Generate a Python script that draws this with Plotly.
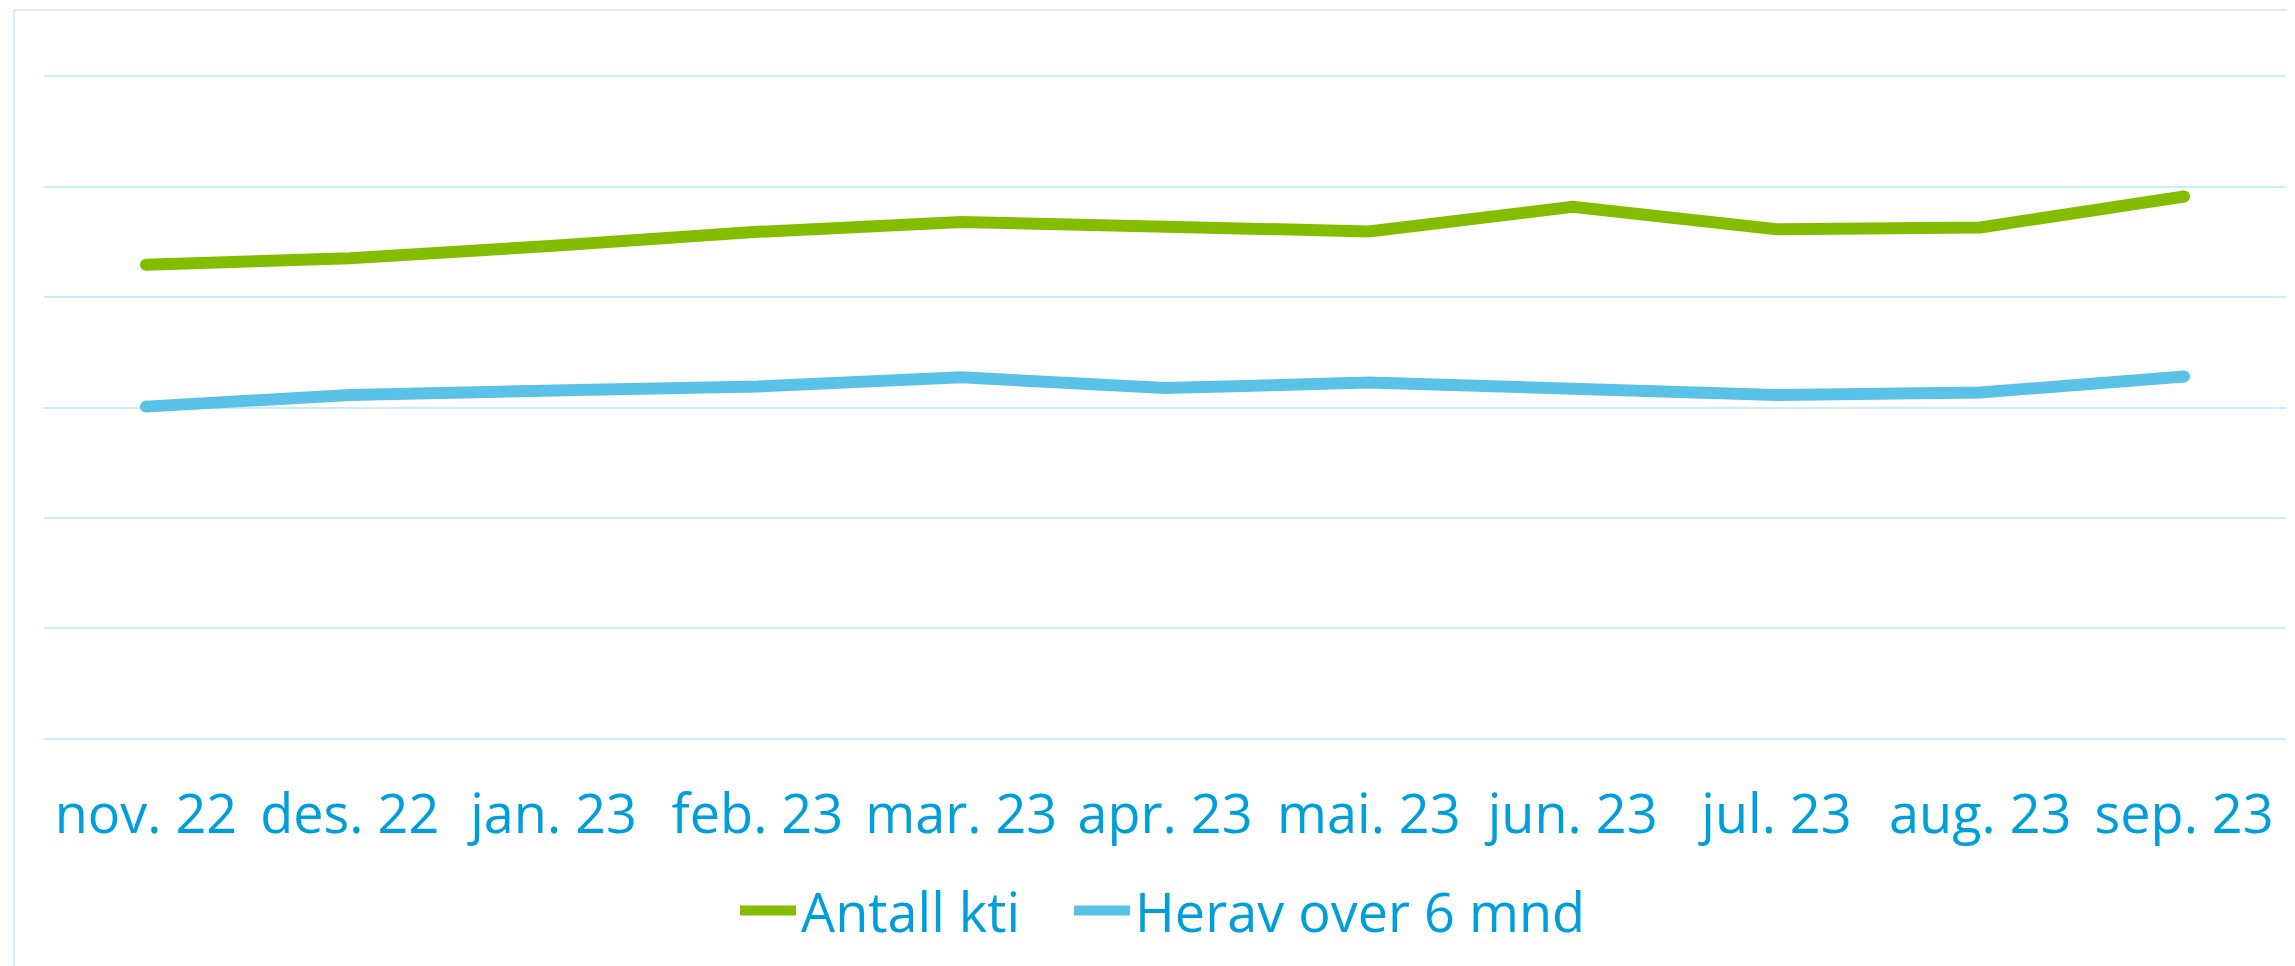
import plotly.graph_objects as go

# ---- data ----
months = ["nov. 22", "des. 22", "jan. 23", "feb. 23", "mar. 23", "apr. 23",
          "mai. 23", "jun. 23", "jul. 23", "aug. 23", "sep. 23"]
antall_kti = [2146, 2176, 2232, 2295, 2340, 2313, 2297, 2408, 2307, 2315, 2455]
herav_over_6_mnd = [1504, 1557, 1577, 1595, 1637, 1588, 1613, 1589, 1557, 1568, 1640]
series_names = ["Antall kti", "Herav over 6 mnd"]

# ---- style ----
GREEN = "#84bd00"
BLUE = "#5bc2e7"
TEXT = "#009fdb"
GRID = "#c8eefb"
LW = 12

W, H = 2295, 966
# the page body has an 8px margin, so figure coordinates are screen - 8
L, R, T, B = 36, 17, 67, 234
pw, ph = W - L - R, H - T - B

def px_to_paper_x(px):
    return (px - L) / pw

def px_to_paper_y(py):
    return (H - B - py) / ph

fig = go.Figure()
for name, vals, col, lg in [(series_names[0], antall_kti, GREEN, "legend"),
                            (series_names[1], herav_over_6_mnd, BLUE, "legend2")]:
    fig.add_trace(go.Scatter(x=months, y=vals, name=name, mode="lines",
                             line=dict(color=col, width=LW), legend=lg))
    # round caps at the ends
    fig.add_trace(go.Scatter(x=[months[0], months[-1]], y=[vals[0], vals[-1]],
                             mode="markers", showlegend=False, hoverinfo="skip",
                             marker=dict(color=col, size=LW, line=dict(width=0))))

# outer chart border (top and left visible)
fig.add_shape(type="rect", xref="paper", yref="paper",
              x0=px_to_paper_x(6), x1=px_to_paper_x(W + 20),
              y0=px_to_paper_y(H + 20), y1=px_to_paper_y(2),
              line=dict(color=GRID, width=1.5), fillcolor="rgba(0,0,0,0)", layer="below")

legend_common = dict(orientation="h", xanchor="left", yanchor="middle",
                     y=px_to_paper_y(903), font=dict(size=54, color=TEXT),
                     itemwidth=56, bgcolor="rgba(0,0,0,0)")

fig.update_layout(
    width=W, height=H,
    margin=dict(l=L, r=R, t=T, b=B, autoexpand=False),
    paper_bgcolor="white", plot_bgcolor="white",
    font=dict(family="Open Sans, Noto Sans, sans-serif", color=TEXT, size=54),
    showlegend=True,
    legend=dict(x=px_to_paper_x(727), **legend_common),
    legend2=dict(x=px_to_paper_x(1061), **legend_common),
    xaxis=dict(type="category", range=[-0.5, len(months) - 0.5],
               showgrid=False, zeroline=False, showline=False,
               ticks="", tickfont=dict(size=54, color=TEXT), ticklabelstandoff=38,
               automargin=False, fixedrange=True),
    yaxis=dict(range=[-5, 3005], dtick=500, tick0=0, showgrid=True, gridcolor=GRID,
               gridwidth=1.8, zeroline=False, showline=False, showticklabels=False,
               ticks="", automargin=False),
)

fig.write_html("out.html")
